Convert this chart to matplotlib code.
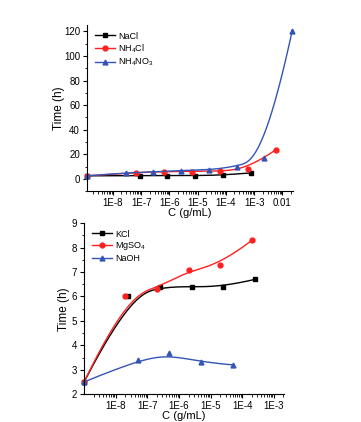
import numpy as np
import matplotlib
matplotlib.use("Agg")
import matplotlib.pyplot as plt
from matplotlib.ticker import LogLocator, MultipleLocator, NullFormatter, FixedLocator, FixedFormatter

plt.rcParams["font.family"] = ["Liberation Sans", "DejaVu Sans"]
plt.rcParams["mathtext.fontset"] = "custom"
plt.rcParams["mathtext.rm"] = "Liberation Sans"

# top panel
nacl_x = [1.2e-9, 9e-8, 8.5e-7, 8e-6, 8e-5, 8e-4]
nacl_y = [2.5, 2.7, 2.7, 2.7, 3.0, 4.9]
nh4cl_x = [1.2e-9, 6.5e-8, 6.5e-7, 6.5e-6, 6e-5, 6e-4, 6e-3]
nh4cl_y = [2.5, 5.1, 6.0, 6.0, 6.3, 7.9, 23.9]
nh4no3_x = [1.2e-9, 2.8e-8, 2.7e-7, 2.6e-6, 2.5e-5, 2.4e-4, 2.3e-3, 2.2e-2]
nh4no3_y = [2.5, 4.9, 5.7, 6.8, 7.3, 10.0, 16.6, 120.0]

# bottom panel
kcl_x = [1e-9, 2.5e-8, 2.5e-7, 2.5e-6, 2.5e-5, 2.5e-4]
kcl_y = [2.5, 6.0, 6.4, 6.4, 6.4, 6.7]
mgso4_x = [1e-9, 2e-8, 2e-7, 2e-6, 2e-5, 2e-4]
mgso4_y = [2.5, 6.0, 6.3, 7.1, 7.3, 8.3]
naoh_x = [1e-9, 5e-8, 5e-7, 5e-6, 5e-5]
naoh_y = [2.5, 3.4, 3.7, 3.3, 3.2]

top_ticks = [1e-8, 1e-7, 1e-6, 1e-5, 1e-4, 1e-3, 1e-2]
top_labels = ["1E-8", "1E-7", "1E-6", "1E-5", "1E-4", "1E-3", "0.01"]
bot_ticks = [1e-8, 1e-7, 1e-6, 1e-5, 1e-4, 1e-3]
bot_labels = ["1E-8", "1E-7", "1E-6", "1E-5", "1E-4", "1E-3"]


def bspline(xs, ys, n=300):
    # clamped cubic B-spline with the points as control points (log x)
    P = np.column_stack([np.log10(xs), ys])
    m = len(P)
    k = min(3, m - 1)
    knots = np.concatenate([np.zeros(k), np.linspace(0, 1, m - k + 1), np.ones(k)])
    t = np.linspace(0, 1 - 1e-9, n)
    out = []
    for u in t:
        j = np.searchsorted(knots, u, side="right") - 1
        j = min(max(j, k), m - 1)
        d = [P[j - k + i].copy() for i in range(k + 1)]
        for r in range(1, k + 1):
            for i in range(k, r - 1, -1):
                a = (u - knots[j - k + i]) / (knots[i + 1 + j - r] - knots[j - k + i])
                d[i] = (1 - a) * d[i - 1] + a * d[i]
        out.append(d[k])
    out.append(P[-1])
    out = np.array(out)
    return 10 ** out[:, 0], out[:, 1]


def series(ax, xs, ys, color, marker, label):
    cx, cy = bspline(xs, ys)
    ax.plot(cx, cy, color=color, lw=1.0)
    ax.plot(xs, ys, ls="none", marker=marker, color=color, ms=3.5, clip_on=False)
    ax.plot([], [], color=color, marker=marker, ms=3.5, lw=1.0, label=label)


def style(ax, ticks, labels, ypad):
    ax.set_xscale("log")
    for s in ["top", "right"]:
        ax.spines[s].set_visible(False)
    ax.xaxis.set_major_locator(FixedLocator(ticks))
    ax.xaxis.set_major_formatter(FixedFormatter(labels))
    ax.xaxis.set_minor_locator(LogLocator(base=10, subs=np.arange(2, 10), numticks=20))
    ax.xaxis.set_minor_formatter(NullFormatter())
    ax.tick_params(which="major", direction="out", length=3, width=0.8, labelsize=7, pad=2)
    ax.tick_params(which="minor", direction="out", length=1.8, width=0.6)
    ax.set_xlabel("C (g/mL)", fontsize=8, labelpad=0)
    ax.set_ylabel("Time (h)", fontsize=8.5, labelpad=ypad)
    ax.legend(loc="upper left", frameon=False, fontsize=6.5, handlelength=2.2,
              handletextpad=0.3, labelspacing=0.2, borderaxespad=0.3,
              bbox_to_anchor=(0.01, 1.0))


fig = plt.figure(figsize=(3.61, 4.22), dpi=100)
ax1 = fig.add_axes([0.241, 0.547, 0.571, 0.393])
ax2 = fig.add_axes([0.233, 0.066, 0.554, 0.405])

blue = "#3355b5"
series(ax1, nacl_x, nacl_y, "black", "s", "NaCl")
series(ax1, nh4cl_x, nh4cl_y, "#ff2020", "o", r"NH$_4$Cl")
series(ax1, nh4no3_x, nh4no3_y, blue, "^", r"NH$_4$NO$_3$")
ax1.set_xlim(1.2e-9, 0.024)
ax1.set_ylim(-10, 125)
ax1.yaxis.set_major_locator(MultipleLocator(20))
ax1.yaxis.set_minor_locator(MultipleLocator(10))
style(ax1, top_ticks, top_labels, -1)

series(ax2, kcl_x, kcl_y, "black", "s", "KCl")
series(ax2, mgso4_x, mgso4_y, "#ff2020", "o", r"MgSO$_4$")
series(ax2, naoh_x, naoh_y, blue, "^", "NaOH")
ax2.set_xlim(1e-9, 2.1e-3)
ax2.set_ylim(2, 9)
ax2.yaxis.set_major_locator(MultipleLocator(1))
ax2.yaxis.set_minor_locator(MultipleLocator(0.5))
style(ax2, bot_ticks, bot_labels, 1)

fig.savefig("out.png", dpi=100)
